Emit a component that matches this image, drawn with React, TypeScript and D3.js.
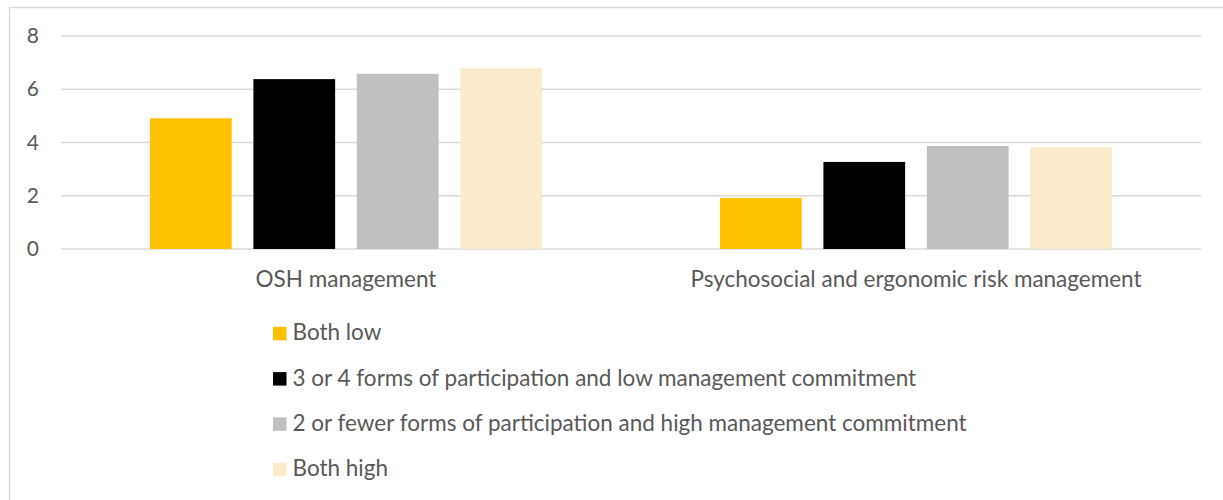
import React from "react";
import * as d3 from "d3";

const categories = ["OSH management", "Psychosocial and ergonomic risk management"];
const seriesNames = [
  "Both low",
  "3 or 4 forms of participation and low management commitment",
  "2 or fewer forms of participation and high management commitment",
  "Both high",
];
const seriesColors = ["#FFC000", "#000000", "#BFBFBF", "#FCEBCB"];
const bothLow = [4.91, 1.92];
const partLowCommit = [6.38, 3.27];
const fewPartHighCommit = [6.58, 3.87];
const bothHigh = [6.79, 3.83];
const seriesValues = [bothLow, partLowCommit, fewPartHighCommit, bothHigh];
const yTicks = [0, 2, 4, 6, 8];

const W = 1223;
const H = 500;
const FONT = "Lato, 'Open Sans', sans-serif";
const TEXT = "#595959";
const FS = 22.5;

export default function App() {
  const y = d3.scaleLinear().domain([0, 8]).range([249, 36]);
  const x0 = d3.scaleBand<string>().domain(categories).range([61, 1201]).padding(0);
  const x1 = d3
    .scaleBand<number>()
    .domain(d3.range(seriesNames.length))
    .range([89, x0.bandwidth() - 89])
    .paddingInner(0.21)
    .paddingOuter(0);

  const legendY = (i: number) => 333.3 + i * 45.3;

  return (
    <svg width={W} height={H} style={{ position: "absolute", left: 0, top: 0 }} fontFamily={FONT}>
      <rect x={0} y={0} width={W} height={H} fill="#fff" />
      <rect x={9.5} y={7.5} width={1400} height={700} fill="none" stroke="#D9D9D9" strokeWidth={1.5} />
      {yTicks.map((t) => (
        <g key={t}>
          <line x1={61} x2={1201} y1={y(t)} y2={y(t)} stroke="#D9D9D9" strokeWidth={1.5} />
          <text x={39} y={y(t) + 7} textAnchor="end" fontSize={21} fill={TEXT}>
            {t}
          </text>
        </g>
      ))}
      {categories.map((c, ci) => (
        <g key={c} transform={`translate(${x0(c)},0)`}>
          {seriesValues.map((vals, si) => (
            <rect
              key={si}
              x={x1(si)}
              y={y(vals[ci])}
              width={x1.bandwidth()}
              height={y(0) - y(vals[ci])}
              fill={seriesColors[si]}
            />
          ))}
          <text x={x0.bandwidth() / 2} y={287} textAnchor="middle" fontSize={FS} fill={TEXT}>
            {c}
          </text>
        </g>
      ))}
      {seriesNames.map((s, i) => (
        <g key={s}>
          <rect x={273} y={legendY(i) - 6.5} width={13.5} height={13.5} fill={seriesColors[i]} />
          <text x={292.5} y={legendY(i) + 7} fontSize={FS} fill={TEXT}>
            {s}
          </text>
        </g>
      ))}
    </svg>
  );
}
